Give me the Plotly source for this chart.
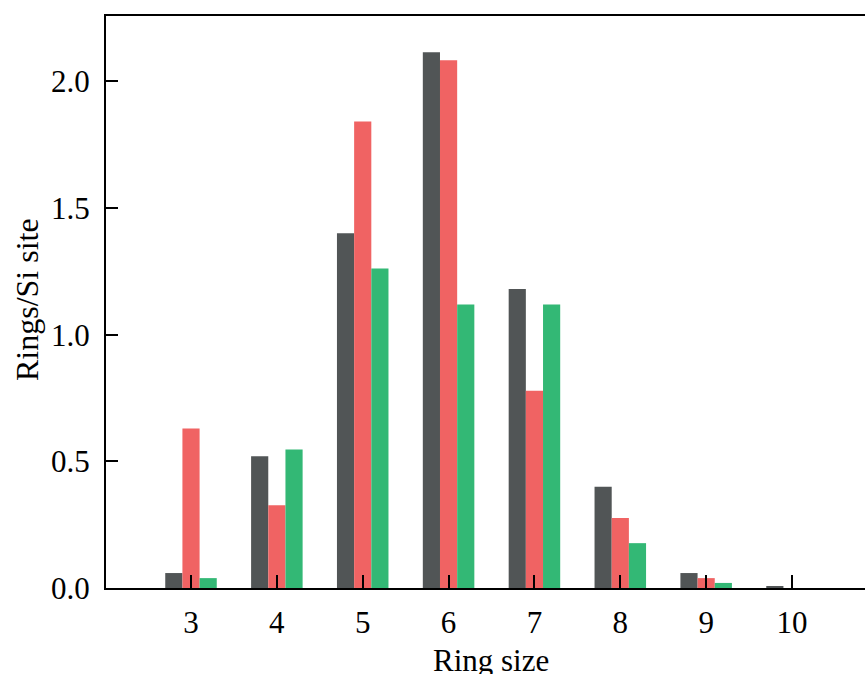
import plotly.graph_objects as go

ring_sizes = [3, 4, 5, 6, 7, 8, 9, 10]
series_a = [0.059, 0.52, 1.40, 2.115, 1.18, 0.40, 0.059, 0.008]
series_b = [0.63, 0.327, 1.842, 2.083, 0.779, 0.276, 0.039, 0.0]
series_c = [0.039, 0.547, 1.261, 1.119, 1.119, 0.177, 0.02, 0.0]
y_ticks = [0.0, 0.5, 1.0, 1.5, 2.0]
y_tick_labels = ["0.0", "0.5", "1.0", "1.5", "2.0"]

colors = ["#515556", "#F06363", "#33B875"]
font = "Liberation Serif, Times New Roman, serif"

fig = go.Figure()
for name, vals, c in zip(["A", "B", "C"], [series_a, series_b, series_c], colors):
    fig.add_trace(go.Bar(x=ring_sizes, y=vals, name=name, marker=dict(color=c, line=dict(width=0))))

W, H = 865, 674
ml, mr, mt, mb = 106, 0, 16, 86
fs = 31
fig.update_layout(
    width=W, height=H,
    margin=dict(l=ml, r=mr, t=mt, b=mb, pad=0),
    barmode="group", bargap=0.4, bargroupgap=0,
    plot_bgcolor="white", paper_bgcolor="white",
    showlegend=False,
    font=dict(family=font, size=fs, color="black"),
)
fig.update_xaxes(
    range=[2.01, 10.85], tickmode="array", tickvals=ring_sizes,
    ticktext=[str(v) for v in ring_sizes],
    ticks="inside", ticklen=13, tickwidth=2, tickcolor="black",
    showline=True, linewidth=2, linecolor="black", mirror=True,
    showgrid=False, zeroline=False, ticklabelstandoff=6,
    tickfont=dict(family=font, size=fs, color="black"),
)
fig.update_yaxes(
    range=[0, 2.258], tickmode="array", tickvals=y_ticks, ticktext=y_tick_labels,
    ticks="inside", ticklen=12, tickwidth=2, tickcolor="black",
    showline=True, linewidth=2, linecolor="black", mirror=False,
    showgrid=False, zeroline=False, ticklabelstandoff=8,
    tickfont=dict(family=font, size=fs, color="black"),
)
pw = W - ml - mr
ph = H - mt - mb
fig.add_annotation(
    text="Ring size", xref="paper", yref="paper",
    x=(491 - ml) / pw, y=-(660 - (H - mb)) / ph,
    showarrow=False, xanchor="center", yanchor="middle",
    font=dict(family=font, size=fs, color="black"),
)
fig.add_annotation(
    text="Rings/Si site", xref="paper", yref="paper",
    x=(27 - ml) / pw, y=(H - mb - 300) / ph, textangle=-90,
    showarrow=False, xanchor="center", yanchor="middle",
    font=dict(family=font, size=32, color="black"),
)
fig.write_html(
    "out.html",
    config={"displayModeBar": False},
    post_script="document.body.style.margin='0px';document.body.style.overflow='hidden';",
)
